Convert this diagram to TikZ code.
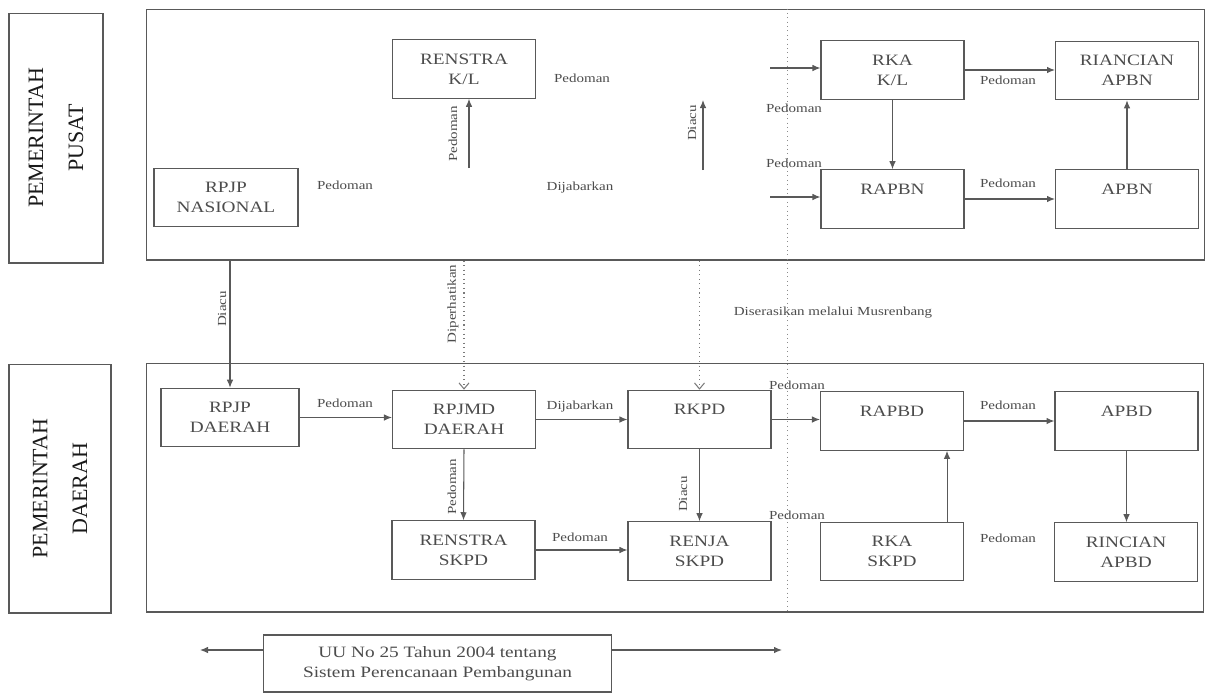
\documentclass[tikz,border=0pt]{standalone}
\usepackage{fontspec}
\setmainfont[FakeStretch=1.22]{Liberation Serif}
\newfontfamily\sidefont{Liberation Serif}
\usetikzlibrary{arrows.meta, positioning, calc}
\definecolor{ln}{gray}{0.35}
\definecolor{tx}{gray}{0.3}
\tikzset{
  blok/.style = {draw=ln, line width=0.6pt, minimum width=2.86cm,
    minimum height=1.17cm, inner sep=0pt, align=center, text=tx,
    font=\fontsize{9}{11.5}\selectfont},
  area/.style = {draw=ln, line width=0.6pt, inner sep=0pt},
  sisi/.style = {draw=ln, line width=0.6pt, inner sep=0pt, rotate=90,
    align=center, text=black!90, font=\sidefont\fontsize{12.5}{22.7}\selectfont},
  ket/.style = {text=tx, font=\fontsize{7}{8}\selectfont, inner sep=1pt},
  ketv/.style = {ket, rotate=90},
  lig/.style = {draw=ln, line width=0.6pt, -{Latex[length=1.6mm, width=1.3mm]}},
  ligt/.style = {draw=ln!80, line width=0.6pt, dotted,
    -{Straight Barb[length=1.2mm, width=2mm]}},
  sep/.style = {draw=ln!70, line width=0.5pt, dotted}
}

\begin{document}
\begin{tikzpicture}[x=0.02cm, y=-0.02cm]
  \useasboundingbox (0,0) rectangle (1207,694);
  \node [sisi, minimum width=5cm, minimum height=1.88cm] (spusat) at (56,138) {PEMERINTAH\\PUSAT};
  \node [sisi, minimum width=4.98cm, minimum height=2.04cm] (sdaerah) at (60,488.5) {PEMERINTAH\\DAERAH};
  \node [area, minimum width=21.18cm, minimum height=5.02cm] (pusat) at (675.5,134.5) {};
  \node [area, minimum width=21.16cm, minimum height=4.98cm] (daerah) at (675,487.5) {};
  \coordinate (s) at (787,0);
  \draw [sep] (pusat.north -| s) -- (daerah.south -| s);

  \node [blok, minimum width=2.88cm] (nas) at (226,197.5) {RPJP\\NASIONAL};
  \node [blok] (rkl) at (464,69) {RENSTRA\\K/L};
  \node [blok] (rkakl) at (892.5,70) {RKA\\K/L};
  \node [blok] (rinapbn) at (1127,70.5) {RIANCIAN\\APBN};
  \node [blok] (rapbn) at (892.5,199) {RAPBN\\~};
  \node [blok] (apbn) at (1127,199) {APBN\\~};

  \node [blok, minimum width=2.76cm] (rpjpd) at (230,417.5) {RPJP\\DAERAH};
  \node [blok] (rpjmd) at (464,419.5) {RPJMD\\DAERAH};
  \node [blok] (rkpd) at (699.5,419.5) {RKPD\\~};
  \node [blok] (rapbd) at (892,421) {RAPBD\\~};
  \node [blok] (apbd) at (1126.5,421) {APBD\\~};
  \node [blok] (renskpd) at (463.5,550) {RENSTRA\\SKPD};
  \node [blok] (renja) at (699.5,551) {RENJA\\SKPD};
  \node [blok] (rkaskpd) at (892,551.5) {RKA\\SKPD};
  \node [blok] (rinapbd) at (1126,552) {RINCIAN\\APBD};

  \node [blok, minimum width=6.98cm, minimum height=1.14cm] (uu) at (437.5,663.5) {UU No 25 Tahun 2004 tentang\\Sistem Perencanaan Pembangunan};

  \coordinate (a1) at (770,68);
  \coordinate (a2) at (770,197);
  \coordinate (p1) at (469,168);
  \coordinate (d1) at (703,170);
  \coordinate (d2) at (703,100);
  \draw [lig] (a1) -- (a1 -| rkakl.west);
  \draw [lig] (a2) -- (a2 -| rapbn.west);
  \draw [lig] (p1) -- (p1 |- rkl.south);
  \draw [lig] (d1) -- (d2);
  \draw [lig] (rkakl.east) -- (rkakl.east -| rinapbn.west);
  \draw [lig] (rkakl.south) -- (rapbn.north);
  \draw [lig] (rapbn.east) -- (rapbn.east -| apbn.west);
  \draw [lig] (apbn.north) -- (rinapbn.south);

  \draw [lig] (pusat.south -| rpjpd) -- (rpjpd.north);
  \draw [ligt] (pusat.south -| rpjmd) -- (rpjmd.north);
  \draw [ligt] (pusat.south -| rkpd) -- (rkpd.north);

  \draw [lig] (rpjpd.east) -- (rpjpd.east -| rpjmd.west);
  \draw [lig] (rpjmd.east) -- (rpjmd.east -| rkpd.west);
  \draw [lig] (rkpd.east) -- (rkpd.east -| rapbd.west);
  \draw [lig] (rapbd.east) -- (rapbd.east -| apbd.west);
  \draw [lig] (apbd.south) -- (apbd.south |- rinapbd.north);
  \draw [lig] ([xshift=-0.34cm]rkaskpd.north east) -- ([xshift=-0.34cm]rapbd.south east);
  \draw [lig] (rpjmd.south) -- (renskpd.north);
  \draw [lig] (rkpd.south) -- (renja.north);
  \draw [lig] (renskpd.east) -- (renskpd.east -| renja.west);

  \coordinate (ukiri) at (200,650);
  \coordinate (ukanan) at (782,650);
  \draw [lig] (uu.west |- ukiri) -- (ukiri);
  \draw [lig] (uu.east |- ukanan) -- (ukanan);

  \node [ket] (k1) at (345,185) {Pedoman};
  \node [ket] (k2) at (582,78) {Pedoman};
  \node [ket] (k3) at (580,188) {Dijabarkan};
  \node [ket] (k4) at (794,108) {Pedoman};
  \node [ket] (k5) at (794,163) {Pedoman};
  \node [ket] (k6) at (1008,80) {Pedoman};
  \node [ket] (k7) at (1008,183) {Pedoman};
  \node [ketv] (k8) at (453,134) {Pedoman};
  \node [ketv] (k9) at (692,123) {Diacu};
  \node [ketv] (k10) at (222,309) {Diacu};
  \node [ketv] (k11) at (453,304) {Diperhatikan};
  \node [ket] (k12) at (833,313) {Diserasikan melalui Musrenbang};
  \node [ket] (k13) at (345,403) {Pedoman};
  \node [ket] (k14) at (580,407) {Dijabarkan};
  \node [ket] (k15) at (797,385) {Pedoman};
  \node [ket] (k16) at (1008,405) {Pedoman};
  \node [ketv] (k17) at (452,487) {Pedoman};
  \node [ketv] (k18) at (683,494) {Diacu};
  \node [ket] (k19) at (580,537) {Pedoman};
  \node [ket] (k20) at (797,515) {Pedoman};
  \node [ket] (k21) at (1008,538) {Pedoman};
\end{tikzpicture}
\end{document}
